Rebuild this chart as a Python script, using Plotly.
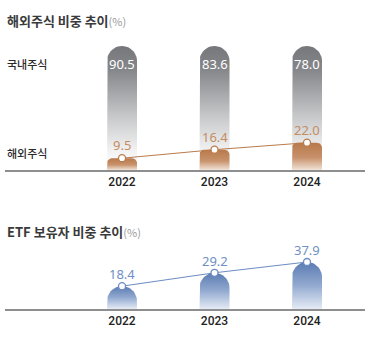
import numpy as np
import plotly.graph_objects as go

# ---------------- data ----------------
years = ["2022", "2023", "2024"]
domestic = [90.5, 83.6, 78.0]      # 국내주식 비중 (%)
foreign = [9.5, 16.4, 22.0]        # 해외주식 비중 (%)
etf_holders = [18.4, 29.2, 37.9]   # ETF 보유자 비중 (%)

title1 = "해외주식 비중 추이"
title2 = "ETF 보유자 비중 추이"
unit = "(%)"
row_labels = ["국내주식", "해외주식"]

# ---------------- geometry / style ----------------
W, H = 370, 340
FONT = "Noto Sans CJK KR"
NUMFONT = "Noto Sans"
YEARFONT = "Roboto"
X0, X1 = 5, 365                 # axis line extent (px)
XR = [-1.265, 2.627]            # category-index range
KX = (X1 - X0) / (XR[1] - XR[0])  # px per x unit
KY = 1.24                       # px per percent
TOP_AXIS, TOP_TOP = 170, 40
BOT_AXIS, BOT_TOP = 309, 250
BAR_HALF_PX = 15

GRAY_CS = [[0, "#ffffff"], [0.15, "#f3f3f3"], [0.45, "#c4c5c7"], [0.8, "#87888c"], [1, "#76777b"]]
BROWN_CS = [[0, "#f0e3d7"], [0.45, "#c8926c"], [1, "#b8794a"]]
BLUE_CS = [[0, "#e5ebf5"], [0.5, "#93aad0"], [1, "#5a7bb2"]]
BROWN = "#b97b4c"
BROWN_TXT = "#c38d62"
BLUE = "#6b8cc4"
BLUE_TXT = "#6f8fc6"


def bar_path(xc, value, r_px):
    """Outline of a bar from 0 to `value` with rounded top corners (radius in px)."""
    hw = BAR_HALF_PX / KX
    rx, ry = r_px / KX, r_px / KY
    ry = min(ry, value)
    xs, ys = [xc - hw], [0]
    t = np.linspace(np.pi, np.pi / 2, 12)
    xs += list(xc - hw + rx + rx * np.cos(t))
    ys += list(value - ry + ry * np.sin(t))
    t = np.linspace(np.pi / 2, 0, 12)
    xs += list(xc + hw - rx + rx * np.cos(t))
    ys += list(value - ry + ry * np.sin(t))
    xs += [xc + hw, xc - hw]
    ys += [0, 0]
    return xs, ys


def bar_trace(i, value, r_px, cs, axis):
    xs, ys = bar_path(i, value, r_px)
    return go.Scatter(
        x=xs, y=ys, mode="lines", fill="toself", line=dict(width=0),
        fillgradient=dict(type="vertical", colorscale=cs),
        hoverinfo="skip", showlegend=False, xaxis=axis[0], yaxis=axis[1],
    )


fig = go.Figure()
idx = list(range(len(years)))
A1 = ("x", "y")
A2 = ("x2", "y2")

# top chart: full (100%) gray bars, brown foreign-share bars
for i, (d, f) in enumerate(zip(domestic, foreign)):
    fig.add_trace(bar_trace(i, d + f, BAR_HALF_PX, GRAY_CS, A1))
for i, f in enumerate(foreign):
    fig.add_trace(bar_trace(i, f, 5, BROWN_CS, A1))
fig.add_trace(go.Scatter(
    x=idx, y=foreign, mode="lines+markers", cliponaxis=False,
    line=dict(color=BROWN, width=1),
    marker=dict(size=7, color="white", line=dict(color=BROWN, width=1.3)),
    hoverinfo="skip", showlegend=False, xaxis="x", yaxis="y"))

# bottom chart: blue ETF bars
for i, v in enumerate(etf_holders):
    fig.add_trace(bar_trace(i, v, BAR_HALF_PX, BLUE_CS, A2))
fig.add_trace(go.Scatter(
    x=idx, y=etf_holders, mode="lines+markers", cliponaxis=False,
    line=dict(color=BLUE, width=1),
    marker=dict(size=7, color="white", line=dict(color=BLUE, width=1.3)),
    hoverinfo="skip", showlegend=False, xaxis="x2", yaxis="y2"))

annotations = []
for i, (d, f) in enumerate(zip(domestic, foreign)):
    annotations.append(dict(x=i, y=d + f, xref="x", yref="y", text=f"{d:.1f}",
                            showarrow=False, yshift=-18,
                            font=dict(family=NUMFONT, size=13, color="white")))
    annotations.append(dict(x=i, y=f, xref="x", yref="y", text=f"{f:.1f}",
                            showarrow=False, yshift=13,
                            font=dict(family=NUMFONT, size=13, color=BROWN_TXT)))
for i, v in enumerate(etf_holders):
    annotations.append(dict(x=i, y=v, xref="x2", yref="y2", text=f"{v:.1f}",
                            showarrow=False, yshift=12,
                            font=dict(family=NUMFONT, size=13, color=BLUE_TXT)))


def py(pix):
    return 1 - pix / H


def title_html(t):
    return (f"<b>{t}</b><span style='font-size:11px;color:#9a9a9a'>{unit}</span>")


annotations.append(dict(x=X0 / W, y=py(20), xref="paper", yref="paper", xanchor="left",
                        yanchor="middle", showarrow=False, text=title_html(title1),
                        font=dict(family=FONT, size=13, color="#3a3a3a")))
annotations.append(dict(x=X0 / W, y=py(231), xref="paper", yref="paper", xanchor="left",
                        yanchor="middle", showarrow=False, text=title_html(title2),
                        font=dict(family=FONT, size=13, color="#3a3a3a")))
for lbl, ypix in zip(row_labels, [64, 153]):
    annotations.append(dict(x=X0 / W, y=py(ypix), xref="paper", yref="paper", xanchor="left",
                            yanchor="middle", showarrow=False, text=lbl,
                            font=dict(family=FONT, size=11, color="#2a2a2a", weight=500)))

xaxis_common = dict(range=XR, showgrid=False, zeroline=False, showline=True,
                    linecolor="#8e8e8e", linewidth=1.5, ticks="",
                    tickvals=idx, ticktext=years, fixedrange=True,
                    tickfont=dict(family=YEARFONT, size=12, color="#222222", weight=500))
yaxis_common = dict(visible=False, showgrid=False, zeroline=False, fixedrange=True)

fig.update_layout(
    width=W, height=H, margin=dict(l=0, r=0, t=0, b=0),
    paper_bgcolor="white", plot_bgcolor="white",
    xaxis=dict(domain=[X0 / W, X1 / W], anchor="y", **xaxis_common),
    yaxis=dict(domain=[py(TOP_AXIS), py(TOP_TOP)], anchor="x",
               range=[0, (TOP_AXIS - TOP_TOP) / KY], **yaxis_common),
    xaxis2=dict(domain=[X0 / W, X1 / W], anchor="y2", **xaxis_common),
    yaxis2=dict(domain=[py(BOT_AXIS), py(BOT_TOP)], anchor="x2",
                range=[0, (BOT_AXIS - BOT_TOP) / KY], **yaxis_common),
    annotations=annotations,
    showlegend=False,
)

fig.write_html("out.html", config={"displayModeBar": False})
